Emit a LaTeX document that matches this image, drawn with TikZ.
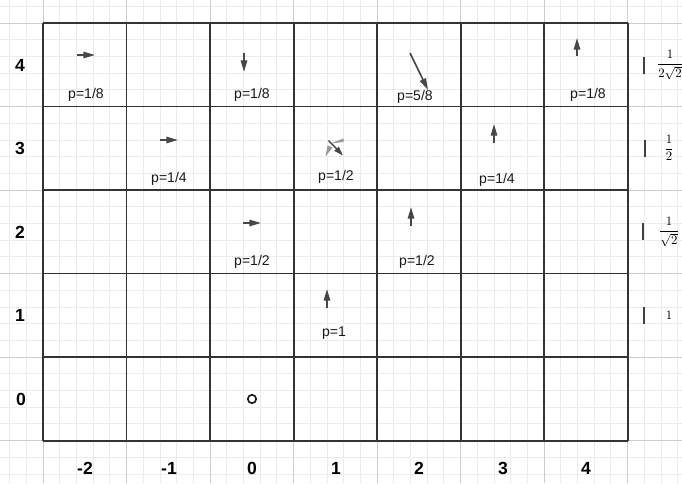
\documentclass[tikz,border=0pt]{standalone}
\usepackage{fontspec}
\setmainfont{Liberation Sans}
\usetikzlibrary{arrows.meta}
\begin{document}
\begin{tikzpicture}[x=0.03cm,y=-0.03cm,
  minorgrid/.style={draw=black!8, line width=0.6pt},
  majorbg/.style={draw=black!20, line width=0.8pt},
  cellline/.style={draw=black!80, line width=1.7pt},
  vec/.style={draw=black!72, line width=1.4pt, -{Triangle[length=10pt,width=5.5pt]}},
  lightvec/.style={fill=black!40, draw=none},
  plabel/.style={font=\fontsize{12}{14}\selectfont, text=black!90, inner sep=0pt},
  axlabel/.style={font=\bfseries\fontsize{15}{17}\selectfont, inner sep=0pt},
  barmark/.style={draw=black!75, line width=1.4pt},
  fraclabel/.style={font=\fontsize{10.5}{12}\selectfont, inner sep=0pt}]
\useasboundingbox (0,0) rectangle (682,483);
\fill[white] (0,0) rectangle (682,483);
% background minor grid
\foreach \k in {0,...,40} {\draw[minorgrid] ({9.6+16.7*\k},0) -- ({9.6+16.7*\k},483);}
\foreach \k in {0,...,28} {\draw[minorgrid] (0,{6.3+16.7*\k}) -- (682,{6.3+16.7*\k});}
% background major grid
\foreach \k in {0,...,7} {\draw[majorbg] ({43+83.5*\k},0) -- ({43+83.5*\k},483);}
\foreach \k in {0,...,5} {\draw[majorbg] (0,{23+83.5*\k}) -- (682,{23+83.5*\k});}
% cell grid
\foreach \k in {0,...,7} {\draw[cellline] ({43+83.5*\k},23) -- ({43+83.5*\k},440.5);}
\foreach \k in {0,...,5} {\draw[cellline] (43,{23+83.5*\k}) -- (627.5,{23+83.5*\k});}
% left axis labels
\node[axlabel] (r4) at (20,65) {4};
\node[axlabel] (r3) at (20,148) {3};
\node[axlabel] (r2) at (20,232) {2};
\node[axlabel] (r1) at (20,315) {1};
\node[axlabel] (r0) at (21,399) {0};
% bottom axis labels
\node[axlabel] (cm2) at (85,468) {-2};
\node[axlabel] (cm1) at (169,468) {-1};
\node[axlabel] (c0) at (252,468) {0};
\node[axlabel] (c1) at (336,468) {1};
\node[axlabel] (c2) at (419,468) {2};
\node[axlabel] (c3) at (503,468) {3};
\node[axlabel] (c4) at (586,468) {4};
% probability labels
\node[plabel] (p1) at (86,95) {p=1/8};
\node[plabel] (p2) at (252,95) {p=1/8};
\node[plabel] (p3) at (415,97) {p=5/8};
\node[plabel] (p4) at (588,95) {p=1/8};
\node[plabel] (p5) at (169,179) {p=1/4};
\node[plabel] (p6) at (336,177) {p=1/2};
\node[plabel] (p7) at (497,180) {p=1/4};
\node[plabel] (p8) at (252,262) {p=1/2};
\node[plabel] (p9) at (417,262) {p=1/2};
\node[plabel] (p10) at (334,333) {p=1};
% arrows
\draw[vec] (77,55) -- (95,55);
\draw[vec] (244,53) -- (244,72);
\draw[vec] (410,53) -- (428,90);
\draw[vec] (577,56) -- (577,38);
\draw[vec] (160,140) -- (178,140);
\draw[vec] (494,143) -- (494,124);
\draw[vec] (243,223) -- (261,223);
\draw[vec] (411,226) -- (411,207);
\draw[vec] (327,308) -- (327,289);
% superposed arrows in cell (1,3)
\fill[lightvec] (343.5,138.5) -- (343.5,142) -- (330.5,143.5) -- cycle;
\fill[lightvec] (327.5,145.5) -- (332.5,147.5) -- (325.5,156.5) -- cycle;
\draw[vec, line width=1.2pt, -{Triangle[length=8pt,width=5pt]}] (328.5,140.5) -- (343,155.5);
% origin
\draw[black!90, line width=1.4pt] (252,399) circle (4.2);
% right scale marks
\draw[barmark] (644,57) -- (644,74);
\draw[barmark] (645,140) -- (645,157);
\draw[barmark] (643,223) -- (643,240);
\draw[barmark] (644,307) -- (644,324);
\node[fraclabel] (f4) at (670,65) {$\displaystyle\frac{1}{2\sqrt{2}}$};
\node[fraclabel] (f3) at (669,148) {$\displaystyle\frac{1}{2}$};
\node[fraclabel] (f2) at (669,232) {$\displaystyle\frac{1}{\sqrt{2}}$};
\node[fraclabel] (f1) at (669,315) {$1$};
\end{tikzpicture}
\end{document}
